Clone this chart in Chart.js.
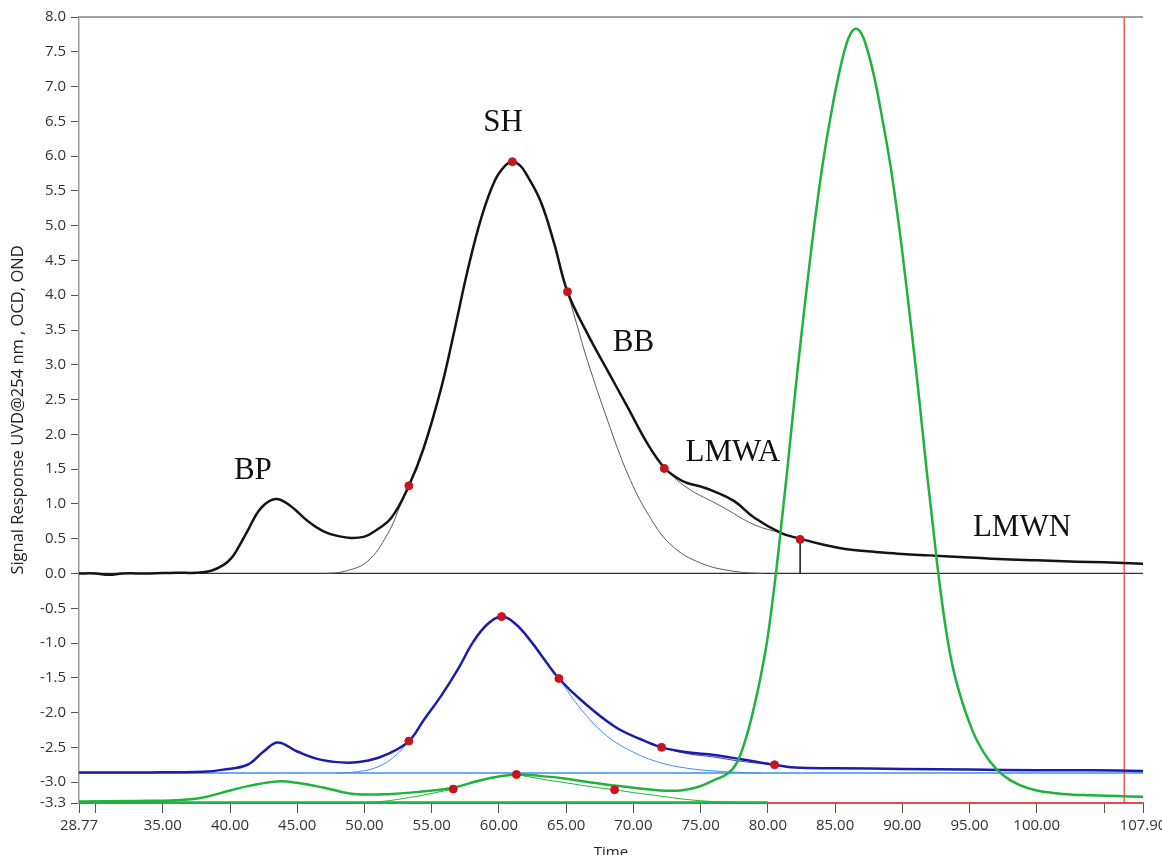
<!DOCTYPE html>
<html>
<head>
<meta charset="utf-8">
<script src="https://cdn.jsdelivr.net/npm/chart.js@4.4.1/dist/chart.umd.min.js"></script>
<style>
  html, body { margin: 0; padding: 0; background: #fff; }
  #wrap { width: 1162px; height: 855px; }
</style>
</head>
<body>
<div id="wrap"><canvas id="chromatogram"></canvas></div>
<script>
// UVD@254 trace (black), time in minutes
const uvdTime = [28.77, 30.0, 31.0, 32.0, 34.0, 36.0, 37.5, 38.6, 39.5, 40.1, 40.7, 41.3, 42.3, 43.4, 44.5, 45.8, 47.0, 48.0, 49.0, 50.0,
  50.7, 52.0, 53.3, 54.4, 55.7, 56.7, 57.7, 58.7, 59.7, 60.5, 61.0, 61.6, 62.1, 63.1, 64.1, 65.1, 66.6, 68.1, 69.6, 71.1,
  72.3, 73.2, 74.0, 75.0, 76.0, 77.5, 79.0, 81.0, 82.4, 84.0, 86.2, 88.0, 90.0, 92.0, 95.0, 98.0, 100.0, 103.0, 105.0, 107.9];
const uvdSignal = [0.00, 0.00, -0.02, 0.00, 0.00, 0.01, 0.01, 0.04, 0.12, 0.22, 0.40, 0.61, 0.94, 1.07, 0.97, 0.75, 0.60, 0.54, 0.51, 0.53,
  0.60, 0.80, 1.26, 1.80, 2.66, 3.50, 4.38, 5.12, 5.65, 5.87, 5.92, 5.86, 5.72, 5.35, 4.75, 4.05, 3.44, 2.91, 2.38, 1.85,
  1.52, 1.38, 1.30, 1.25, 1.18, 1.04, 0.80, 0.58, 0.50, 0.42, 0.34, 0.31, 0.28, 0.26, 0.23, 0.20, 0.19, 0.17, 0.16, 0.14];

// fitted components of the UVD trace (thin grey)
const uvdShTime = [47.2, 48.5, 50.2, 51.7, 52.7, 53.3, 54.4, 55.7, 56.7, 57.7, 58.7, 59.7, 60.5, 61.0, 61.6, 62.1, 63.1, 64.1, 65.1, 66.0,
  66.6, 68.1, 69.6, 71.1, 72.8, 75.0, 77.5, 79.6];
const uvdShSignal = [0.00, 0.03, 0.17, 0.56, 0.99, 1.26, 1.80, 2.66, 3.50, 4.38, 5.12, 5.65, 5.87, 5.92, 5.86, 5.72, 5.35, 4.75, 4.05, 3.44,
  3.05, 2.19, 1.42, 0.85, 0.41, 0.15, 0.03, 0.00];
const uvdLmwaTime = [72.3, 74.0, 76.5, 79.0, 81.0];
const uvdLmwaSignal = [1.51, 1.23, 0.97, 0.70, 0.58];
const uvdDropTime = [82.4, 82.4];
const uvdDropSignal = [0.49, 0.00];

// OCD trace (blue)
const ocdTime = [28.77, 34.0, 38.0, 39.5, 41.3, 42.5, 43.55, 45.0, 46.8, 48.8, 50.3, 51.8, 53.3, 54.4, 55.7, 57.0, 58.1, 59.2, 60.2, 61.2,
  62.4, 63.5, 64.46, 66.1, 68.6, 70.5, 72.1, 74.0, 76.0, 78.0, 80.5, 82.0, 85.0, 90.0, 95.0, 100.0, 104.0, 107.9];
const ocdSignal = [-2.86, -2.86, -2.85, -2.82, -2.75, -2.56, -2.43, -2.56, -2.68, -2.72, -2.69, -2.59, -2.41, -2.11, -1.76, -1.36, -0.98, -0.72, -0.62, -0.72,
  -0.98, -1.27, -1.51, -1.82, -2.20, -2.38, -2.50, -2.57, -2.61, -2.67, -2.75, -2.79, -2.80, -2.81, -2.82, -2.83, -2.83, -2.84];
const ocdShTime = [47.9, 49.5, 51.0, 52.3, 53.3];
const ocdShSignal = [-2.87, -2.85, -2.78, -2.62, -2.41];
const ocdTailTime = [64.46, 66.1, 68.0, 70.0, 72.0, 74.0, 76.0, 78.0, 79.5];
const ocdTailSignal = [-1.51, -1.95, -2.33, -2.57, -2.72, -2.80, -2.84, -2.86, -2.87];
const ocdLmwaTime = [72.1, 74.0, 76.0, 78.0, 80.5];
const ocdLmwaSignal = [-2.50, -2.59, -2.64, -2.70, -2.75];

// OND trace (green)
const ondTime = [28.77, 33.0, 36.0, 38.0, 40.0, 41.5, 43.5, 45.0, 47.0, 49.2, 52.0, 54.5, 56.6, 58.5, 60.0, 61.3, 63.0, 65.0, 67.0, 68.6,
  70.0, 72.0, 73.5, 74.8, 76.0, 77.0, 77.7, 78.4, 79.0, 79.5, 80.0, 80.6, 81.0, 81.45, 81.95, 82.45, 82.95, 83.45, 84.05, 84.65,
  85.25, 85.75, 86.15, 86.55, 86.96, 87.37, 87.9, 88.5, 89.13, 89.75, 90.26, 90.77, 91.29, 91.8, 92.27, 92.68, 93.2, 93.7, 94.3, 94.9,
  95.6, 96.5, 97.5, 98.7, 100.0, 102.0, 104.0, 106.0, 107.9];
const ondSignal = [-3.28, -3.27, -3.26, -3.22, -3.12, -3.05, -2.99, -3.01, -3.08, -3.17, -3.17, -3.13, -3.08, -2.98, -2.92, -2.89, -2.91, -2.95, -3.01, -3.05,
  -3.08, -3.12, -3.12, -3.07, -2.97, -2.88, -2.72, -2.35, -1.90, -1.45, -0.90, 0.00, 0.70, 1.50, 2.45, 3.35, 4.20, 5.00, 5.85, 6.55,
  7.15, 7.55, 7.76, 7.83, 7.76, 7.55, 7.15, 6.55, 5.85, 5.00, 4.20, 3.35, 2.45, 1.50, 0.70, 0.00, -0.75, -1.30, -1.75, -2.10,
  -2.42, -2.70, -2.90, -3.04, -3.12, -3.17, -3.19, -3.20, -3.21];
const ondShTime = [49.2, 51.2, 53.7, 55.3, 56.6];
const ondShSignal = [-3.30, -3.28, -3.21, -3.15, -3.10];
const ondTailTime = [61.3, 63.0, 65.0, 67.0, 68.6, 70.0, 72.0, 74.0, 76.0, 77.5];
const ondTailSignal = [-2.89, -2.95, -3.01, -3.07, -3.11, -3.15, -3.20, -3.25, -3.28, -3.29];

// baselines
const fullRange = [28.77, 107.9];
const uvdBaseline = [0.00, 0.00];
const ocdBaseline = [-2.87, -2.87];
const ondBaseTime = [28.77, 80.0];
const ondBaseline = [-3.29, -3.29];

// integration markers (red dots)
const uvdMarkTime = [53.3, 61.0, 65.1, 72.3, 82.4];
const uvdMarkSignal = [1.26, 5.92, 4.05, 1.51, 0.49];
const ocdMarkTime = [53.3, 60.2, 64.46, 72.1, 80.5];
const ocdMarkSignal = [-2.41, -0.62, -1.51, -2.50, -2.75];
const ondMarkTime = [56.6, 61.3, 68.6];
const ondMarkSignal = [-3.10, -2.89, -3.11];

// cursor line
const cursorTime = [106.5, 106.5];
const cursorSignal = [-3.3, 8.0];

// fraction names
const fractionNames = ['BP', 'SH', 'BB', 'LMWA', 'LMWN'];
const fractionTime = [41.7, 60.3, 70.0, 77.4, 98.9];
const fractionSignal = [1.48, 6.48, 3.31, 1.73, 0.65];

// axis ticks
const xTickValues = [28.77, 30, 35, 40, 45, 50, 55, 60, 65, 70, 75, 80, 85, 90, 95, 100, 105, 107.9];
const xTickLabels = ['28.77', '', '35.00', '40.00', '45.00', '50.00', '55.00', '60.00', '65.00', '70.00', '75.00',
  '80.00', '85.00', '90.00', '95.00', '100.00', '', '107.90'];
const yTickValues = [8.0, 7.5, 7.0, 6.5, 6.0, 5.5, 5.0, 4.5, 4.0, 3.5, 3.0, 2.5, 2.0, 1.5, 1.0, 0.5, 0.0,
  -0.5, -1.0, -1.5, -2.0, -2.5, -3.0, -3.3];

const pts = (xs, ys) => xs.map((x, i) => ({ x: x, y: ys[i] }));

function trace(xs, ys, color, width, order) {
  return {
    data: pts(xs, ys),
    showLine: true,
    borderColor: color,
    borderWidth: width,
    pointRadius: 0,
    tension: 0.4,
    order: order
  };
}

function marks(xs, ys) {
  return {
    data: pts(xs, ys),
    showLine: false,
    pointRadius: 4,
    pointBackgroundColor: '#c8141e',
    pointBorderColor: '#c8141e',
    order: 0
  };
}

const BLACK = '#141414';
const BLUE = '#1c1caa';
const LIGHT_BLUE = '#3c8ef0';
const GREEN = '#1fb23c';
const GREY = '#5a5a5a';

// top frame + fraction labels
const decorations = {
  id: 'decorations',
  beforeDatasetsDraw(chart) {
    const { ctx, chartArea } = chart;
    ctx.save();
    ctx.strokeStyle = '#a0a0a0';
    ctx.lineWidth = 2;
    ctx.beginPath();
    ctx.moveTo(chartArea.left, chartArea.top);
    ctx.lineTo(chartArea.right, chartArea.top);
    ctx.stroke();
    ctx.restore();
  },
  afterDatasetsDraw(chart) {
    const { ctx, scales } = chart;
    ctx.save();
    ctx.font = '31px "Liberation Serif", "Times New Roman", serif';
    ctx.fillStyle = '#111';
    ctx.textAlign = 'center';
    ctx.textBaseline = 'middle';
    fractionNames.forEach((name, i) => {
      ctx.fillText(name, scales.x.getPixelForValue(fractionTime[i]), scales.y.getPixelForValue(fractionSignal[i]));
    });
    ctx.restore();
  }
};

new Chart(document.getElementById('chromatogram'), {
  type: 'scatter',
  data: {
    datasets: [
      marks(uvdMarkTime, uvdMarkSignal),
      marks(ocdMarkTime, ocdMarkSignal),
      marks(ondMarkTime, ondMarkSignal),
      trace(ondTime, ondSignal, GREEN, 2.5, 1),
      trace(uvdTime, uvdSignal, BLACK, 2.5, 2),
      trace(ocdTime, ocdSignal, BLUE, 2.5, 3),
      trace(cursorTime, cursorSignal, '#ee3535', 1.2, 4),
      trace(uvdShTime, uvdShSignal, GREY, 1, 5),
      trace(uvdLmwaTime, uvdLmwaSignal, GREY, 1, 5),
      trace(uvdDropTime, uvdDropSignal, BLACK, 1.5, 5),
      trace(ocdShTime, ocdShSignal, LIGHT_BLUE, 1, 5),
      trace(ocdTailTime, ocdTailSignal, LIGHT_BLUE, 1, 5),
      trace(ocdLmwaTime, ocdLmwaSignal, '#3a3ac0', 1, 5),
      trace(ondShTime, ondShSignal, GREEN, 1, 5),
      trace(ondTailTime, ondTailSignal, GREEN, 1, 5),
      trace(fullRange, uvdBaseline, '#333', 1.2, 6),
      trace(fullRange, ocdBaseline, LIGHT_BLUE, 1.5, 6),
      trace(ondBaseTime, ondBaseline, GREEN, 2, 6)
    ]
  },
  options: {
    responsive: true,
    maintainAspectRatio: false,
    animation: false,
    layout: { padding: { top: 17, right: 19, left: 0, bottom: -10 } },
    plugins: {
      legend: { display: false },
      tooltip: { enabled: false }
    },
    scales: {
      x: {
        type: 'linear',
        min: 28.77,
        max: 107.9,
        afterBuildTicks: (scale) => { scale.ticks = xTickValues.map(v => ({ value: v })); },
        afterFit: (scale) => {
          scale.height = 62;
          scale.paddingRight = 0;   // let "107.90" run into the margin like the original
        },
        ticks: {
          autoSkip: false,
          maxRotation: 0,
          padding: 4,
          color: '#333',
          font: { family: '"Open Sans", sans-serif', size: 15 },
          callback: (value, index) => xTickLabels[index]
        },
        grid: { drawOnChartArea: false, tickLength: 10, color: '#555' },
        border: { color: '#e84a4a', width: 2 },
        title: {
          display: true,
          text: 'Time',
          color: '#222',
          padding: { top: 0, bottom: 3 },
          font: { family: '"Open Sans", sans-serif', size: 15 }
        }
      },
      y: {
        min: -3.3,
        max: 8.0,
        afterBuildTicks: (scale) => { scale.ticks = yTickValues.map(v => ({ value: v })); },
        afterFit: (scale) => { scale.width = 79; },
        ticks: {
          autoSkip: false,
          padding: 5,
          color: '#333',
          font: { family: '"Open Sans", sans-serif', size: 15 },
          callback: (value) => value.toFixed(1)
        },
        grid: { drawOnChartArea: false, tickLength: 8, color: '#555' },
        border: { color: '#9a9a9a', width: 1.5 },
        title: {
          display: true,
          text: 'Signal Response UVD@254 nm , OCD, OND',
          color: '#222',
          padding: { top: 8, bottom: 0 },
          font: { family: '"Open Sans", sans-serif', size: 16.5 }
        }
      }
    }
  },
  plugins: [decorations]
});
</script>
</body>
</html>
